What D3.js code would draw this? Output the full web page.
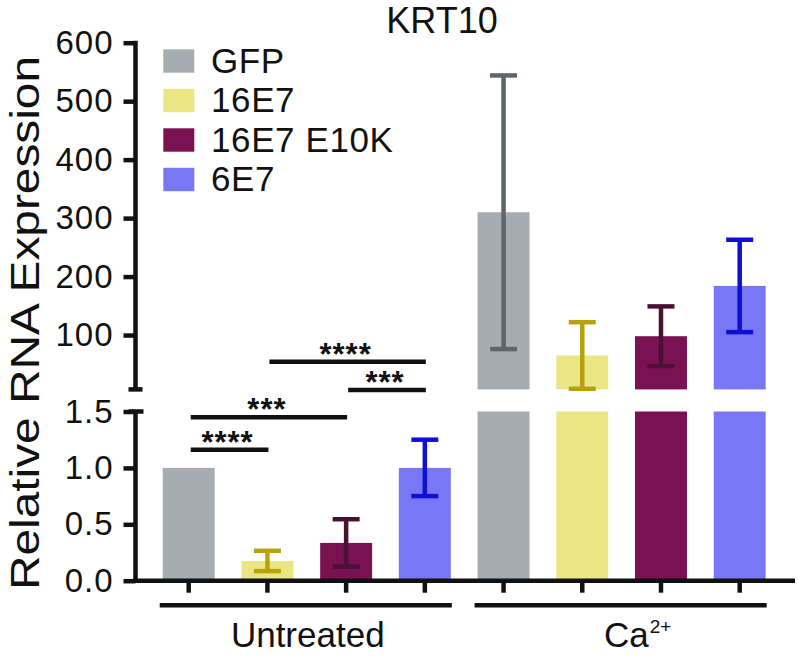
<!DOCTYPE html>
<html><head><meta charset="utf-8">
<script src="https://cdn.jsdelivr.net/npm/d3@7"></script>
<style>
body{margin:0;background:#fff}
text{font-family:"Liberation Sans", Arial, Helvetica, sans-serif; fill:#111}
</style>
</head><body>
<svg id="chart" width="798" height="660"></svg>
<script>
// ---------- data ----------
const groups = ["Untreated", "Ca2+"];
const series = ["GFP", "16E7", "16E7 E10K", "6E7"];
const untreatedMean = [1.0, 0.175, 0.335, 1.0];
const untreatedErr  = [0, 0.09, 0.21, 0.25];
const calciumMean   = [310, 65, 98, 184];
const calciumErr    = [234, 57, 51, 79];
const upperTicks = [100, 200, 300, 400, 500, 600];
const lowerTicks = [0.0, 0.5, 1.0, 1.5];
const upperDomain = [7, 600];   // visible part of the upper segment
const lowerDomain = [0, 1.5];
// significance: [from series, to series, label, height on lower scale]
const sigFrom   = [0, 0, 2, 1];
const sigTo     = [1, 2, 3, 3];
const sigLabel  = ["****", "***", "***", "****"];
const sigHeight = [1.16, 1.45, 1.69, 1.94];

// ---------- styles ----------
const barColors = ["#a5adb0", "#ebe684", "#7a1153", "#7878f7"];
const errColors = ["#5d6567", "#b8a20c", "#4a1232", "#1010d4"];
const ink = "#111";

const svg = d3.select("#chart");

// ---------- scales ----------
const keys = [];
groups.forEach((g, gi) => series.forEach((s, si) => keys.push(gi + "|" + si)));
const x = d3.scaleBand().domain(keys).range([149.35, 779.05]).paddingInner(0.34).paddingOuter(0.17);
const cx = k => x(k) + x.bandwidth() / 2;

const yTop = d3.scaleLinear().domain([0, 600]).range([393.5, 42.7]);
const yLow = d3.scaleLinear().domain([0, 1.5]).range([580.7, 411.5]);

const axisX = 135.5;

// ---------- bars ----------
const gBars = svg.append("g");
series.forEach((s, i) => {
  const k = "0|" + i;
  gBars.append("rect").attr("x", x(k)).attr("width", x.bandwidth())
    .attr("y", yLow(untreatedMean[i])).attr("height", yLow(0) - yLow(untreatedMean[i]))
    .attr("fill", barColors[i]);
});
series.forEach((s, i) => {
  const k = "1|" + i;
  gBars.append("rect").attr("x", x(k)).attr("width", x.bandwidth())
    .attr("y", yLow(lowerDomain[1])).attr("height", yLow(0) - yLow(lowerDomain[1]))
    .attr("fill", barColors[i]);
  gBars.append("rect").attr("x", x(k)).attr("width", x.bandwidth())
    .attr("y", yTop(calciumMean[i])).attr("height", yTop(upperDomain[0]) - yTop(calciumMean[i]))
    .attr("fill", barColors[i]);
});

// ---------- error bars ----------
const capW = 27, errW = 4.5;
function errBar(xc, y1, y2, color) {
  const g = svg.append("g").attr("stroke", color).attr("stroke-width", errW);
  g.append("line").attr("x1", xc).attr("x2", xc).attr("y1", y1).attr("y2", y2);
  g.append("line").attr("x1", xc - capW / 2).attr("x2", xc + capW / 2).attr("y1", y1).attr("y2", y1);
  g.append("line").attr("x1", xc - capW / 2).attr("x2", xc + capW / 2).attr("y1", y2).attr("y2", y2);
}
series.forEach((s, i) => {
  if (untreatedErr[i] > 0)
    errBar(cx("0|" + i), yLow(untreatedMean[i] + untreatedErr[i]), yLow(untreatedMean[i] - untreatedErr[i]), errColors[i]);
  errBar(cx("1|" + i), yTop(calciumMean[i] + calciumErr[i]), yTop(calciumMean[i] - calciumErr[i]), errColors[i]);
});

// ---------- y axes (broken) ----------
const axW = 4.5;
const upperAxis = d3.axisLeft(yTop).tickValues(upperTicks).tickSize(12).tickPadding(10).tickFormat(d3.format("d"));
const lowerAxis = d3.axisLeft(yLow).tickValues(lowerTicks).tickSize(12).tickPadding(10).tickFormat(d3.format(".1f"));

function styleAxis(g) {
  g.select(".domain").remove();
  g.selectAll(".tick line").attr("stroke", ink).attr("stroke-width", axW);
  g.selectAll(".tick text").attr("font-size", 33).attr("fill", ink).attr("letter-spacing", 1)
    .style("font-family", '"Liberation Sans", Arial, sans-serif');
}
svg.append("g").attr("transform", `translate(${axisX},0)`).call(upperAxis).call(styleAxis);
svg.append("g").attr("transform", `translate(${axisX},0)`).call(lowerAxis).call(styleAxis);

// axis spines
svg.append("line").attr("x1", axisX).attr("x2", axisX)
  .attr("y1", yTop(600) - 2).attr("y2", yTop(upperDomain[0]))
  .attr("stroke", ink).attr("stroke-width", axW);
svg.append("line").attr("x1", axisX - 7).attr("x2", axisX + 7)
  .attr("y1", yTop(upperDomain[0])).attr("y2", yTop(upperDomain[0]))
  .attr("stroke", ink).attr("stroke-width", axW);
svg.append("line").attr("x1", axisX).attr("x2", axisX)
  .attr("y1", yLow(lowerDomain[1])).attr("y2", yLow(0) + 2)
  .attr("stroke", ink).attr("stroke-width", axW);
svg.append("line").attr("x1", axisX - 7).attr("x2", axisX + 8)
  .attr("y1", yLow(lowerDomain[1])).attr("y2", yLow(lowerDomain[1]))
  .attr("stroke", ink).attr("stroke-width", axW);

// ---------- x axis ----------
svg.append("line").attr("x1", axisX - 2).attr("x2", 795)
  .attr("y1", yLow(0)).attr("y2", yLow(0)).attr("stroke", ink).attr("stroke-width", axW);
const xAxis = d3.axisBottom(x).tickSize(12).tickFormat("");
const gx = svg.append("g").attr("transform", `translate(0,${yLow(0)})`).call(xAxis);
gx.select(".domain").remove();
gx.selectAll(".tick line").attr("stroke", ink).attr("stroke-width", axW);

// group lines + labels
groups.forEach((g, gi) => {
  const first = gi + "|0", last = gi + "|" + (series.length - 1);
  const x1 = x(first) - 3, x2 = x(last) + x.bandwidth() + 1;
  svg.append("line").attr("x1", x1).attr("x2", x2).attr("y1", 605.3).attr("y2", 605.3)
    .attr("stroke", ink).attr("stroke-width", axW);
  if (gi === 0) {
    svg.append("text").attr("x", (x1 + x2) / 2 + 2).attr("y", 647)
      .attr("text-anchor", "middle").attr("font-size", 35).text(g);
  } else {
    const t = svg.append("text").attr("x", 604).attr("y", 647).attr("font-size", 35);
    t.append("tspan").text("Ca");
    t.append("tspan").attr("font-size", 19).attr("dy", -14).attr("dx", 1).text("2+");
  }
});

// ---------- significance ----------
sigFrom.forEach((a, i) => {
  const xa = cx("0|" + a) + 2, xb = cx("0|" + sigTo[i]) + 1;
  const yy = yLow(sigHeight[i]);
  svg.append("line").attr("x1", xa).attr("x2", xb).attr("y1", yy).attr("y2", yy)
    .attr("stroke", ink).attr("stroke-width", 4.5);
  svg.append("text").attr("x", (xa + xb) / 2 - 2).attr("y", yy + 3)
    .attr("text-anchor", "middle").attr("font-size", 31).attr("font-weight", "bold")
    .attr("letter-spacing", 1).text(sigLabel[i]);
});

// ---------- title & y label ----------
svg.append("text").attr("x", 442).attr("y", 33).attr("text-anchor", "middle")
  .attr("font-size", 36).text("KRT10");
svg.append("text").attr("transform", "translate(39,323) rotate(-90)")
  .attr("text-anchor", "middle").attr("font-size", 40)
  .attr("textLength", 534).attr("lengthAdjust", "spacingAndGlyphs")
  .text("Relative RNA Expression");

// ---------- legend ----------
const lg = svg.append("g");
series.forEach((s, i) => {
  const yy = 49.3 + i * 39.5;
  lg.append("rect").attr("x", 163.3).attr("y", yy).attr("width", 31).attr("height", 23.4)
    .attr("fill", barColors[i]);
  lg.append("text").attr("x", 211).attr("y", yy + 23.2).attr("font-size", 35)
    .attr("letter-spacing", 0.6).text(s);
});
</script>
</body></html>
